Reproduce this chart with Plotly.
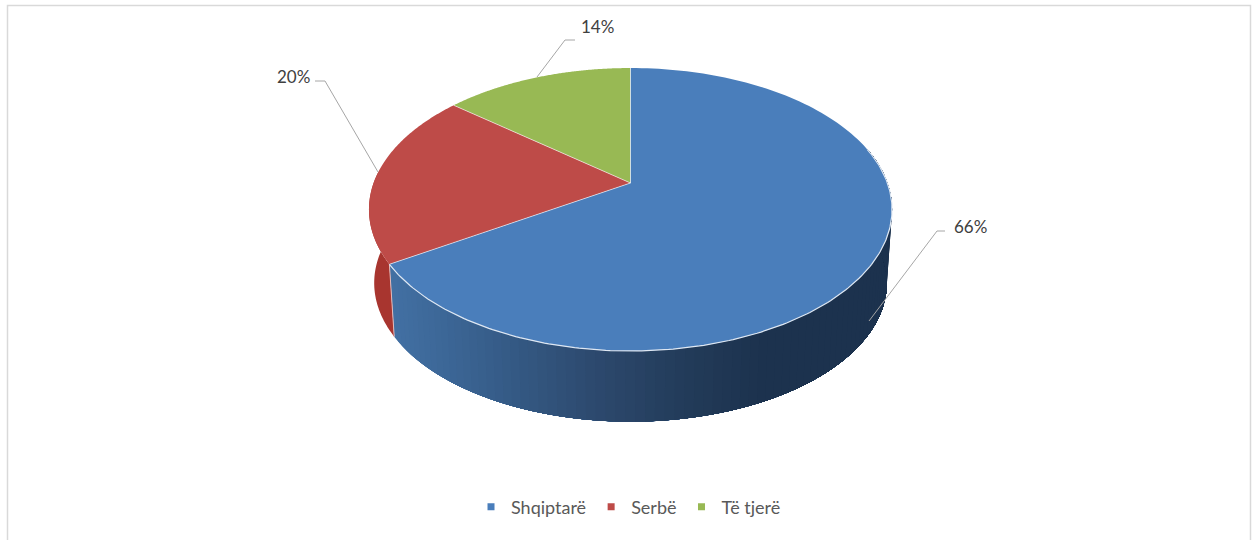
import numpy as np
import plotly.graph_objects as go

CATEGORIES = ["Shqiptarë", "Serbë", "Të tjerë"]
VALUES = [66, 20, 14]
LABELS = ["66%", "20%", "14%"]
TOP_COLORS = ["#4a7ebb", "#be4b48", "#98b954"]
RED_SIDE = "#a8352f"
BLUE_STOPS_X = [385, 450, 520, 600, 680, 750, 900]
BLUE_STOPS_RGB = [(68, 114, 165), (60, 102, 150), (52, 88, 130), (44, 72, 108), (35, 60, 90), (29, 51, 79), (28, 50, 78)]

W, H = 1252, 540
CX, CY = 630.5, 183.0
K = 0.1873
RX, RY = 256.9, 136.5
DEPTH, SHRINK = 74.0, 0.98
FONT = "Lato"


def top_xy(a):
    u, v = -np.sin(a), np.cos(a)
    s = 1 / (1 + K * v)
    return CX + RX * u * s, CY - RY * v * s


def bottom_xy(a):
    u, v = -np.sin(a), np.cos(a)
    s = SHRINK / (1 + K * v)
    return CX + RX * u * s, CY + DEPTH - RY * v * s


# slices run counter-clockwise from 12 o'clock in reverse category order: Të tjerë, Serbë, Shqiptarë
order = [2, 1, 0]
edges = np.deg2rad(np.cumsum([0] + [VALUES[i] for i in order]) / sum(VALUES) * 360)
span = {idx: (edges[n], edges[n + 1]) for n, idx in enumerate(order)}

fig = go.Figure()


def add_poly(x, y, color):
    fig.add_trace(go.Scatter(x=x, y=y, mode="none", fill="toself", fillcolor=color,
                             hoverinfo="skip", showlegend=False))


def add_wall(a_from, a_to, color):
    t = np.linspace(a_from, a_to, 120)
    tx, ty = top_xy(t)
    bx, by = bottom_xy(t[::-1])
    add_poly(list(tx) + list(bx), list(ty) + list(by), color)


# side wall: red part
add_wall(np.deg2rad(85), span[1][1], RED_SIDE)

# side wall: blue part, each strip painted over the previous one from left to right
a0 = span[0][0]
a_end = np.deg2rad(285)
for a_s in np.linspace(a0, a_end, 90)[:-1]:
    xm = float(bottom_xy(a_s)[0])
    rgb = [int(np.interp(xm, BLUE_STOPS_X, [c[i] for c in BLUE_STOPS_RGB])) for i in range(3)]
    add_wall(a_s, a_end, f"rgb({rgb[0]},{rgb[1]},{rgb[2]})")

# light edge between the red and blue side walls
ex0, ey0 = top_xy(span[0][0])
ex1, ey1 = bottom_xy(span[0][0])
fig.add_trace(go.Scatter(x=[ex0, ex1], y=[ey0, ey1], mode="lines",
                         line=dict(color="#e6b8b7", width=1), hoverinfo="skip", showlegend=False))

# top faces
for idx in order:
    a_s, a_e = span[idx]
    t = np.linspace(a_s, a_e, 160)
    ax, ay = top_xy(t)
    add_poly([CX] + list(ax) + [CX], [CY] + list(ay) + [CY], TOP_COLORS[idx])

# highlights along slice borders and the front rim
for e in edges[:-1]:
    px, py = top_xy(e)
    fig.add_trace(go.Scatter(x=[CX, px], y=[CY, py], mode="lines",
                             line=dict(color="rgba(255,255,255,0.6)", width=1),
                             hoverinfo="skip", showlegend=False))
t = np.linspace(span[0][0], np.deg2rad(285), 200)
rx_, ry_ = top_xy(t)
fig.add_trace(go.Scatter(x=rx_, y=ry_, mode="lines", line=dict(color="#dfe8f3", width=1.2),
                         hoverinfo="skip", showlegend=False))

# leader lines and data labels
LEADERS = {0: ([869, 937, 945], [321, 231, 231]),
           1: ([378, 325, 315], [172, 81, 81]),
           2: ([537, 565, 575], [77, 40, 40])}
LABEL_POS = {0: (970, 226), 1: (293, 76), 2: (597, 26)}
for i in range(3):
    fig.add_trace(go.Scatter(x=LEADERS[i][0], y=LEADERS[i][1], mode="lines",
                             line=dict(color="#a6a6a6", width=1), hoverinfo="skip", showlegend=False))
    fig.add_annotation(x=LABEL_POS[i][0], y=LABEL_POS[i][1], text=LABELS[i], showarrow=False,
                       font=dict(family=FONT, size=17, color="#404040"))

# legend
for i, name in enumerate(CATEGORIES):
    fig.add_trace(go.Scatter(x=[None], y=[None], mode="markers", name=name,
                             marker=dict(symbol="square", size=7, color=TOP_COLORS[i])))

fig.update_layout(
    width=W, height=H, margin=dict(l=0, r=0, t=0, b=0), paper_bgcolor="white", plot_bgcolor="white",
    xaxis=dict(range=[0, W], visible=False, fixedrange=True),
    yaxis=dict(range=[H, 0], visible=False, fixedrange=True),
    legend=dict(orientation="h", x=0.502, xanchor="center", y=1 - 507 / H, yanchor="middle",
                font=dict(family=FONT, size=18, color="#595959"), itemwidth=30,
                bgcolor="rgba(0,0,0,0)", traceorder="normal"),
    shapes=[dict(type="path", xref="paper", yref="paper",
                 path=f"M {7.5 / W} 0 L {7.5 / W} {1 - 5.5 / H} L {1250.5 / W} {1 - 5.5 / H} L {1250.5 / W} 0",
                 line=dict(color="#d9d9d9", width=1.5))],
    showlegend=True,
)
fig.write_html("out.html", config=dict(displayModeBar=False),
               post_script="document.body.style.margin='0';document.body.style.overflow='hidden';")
